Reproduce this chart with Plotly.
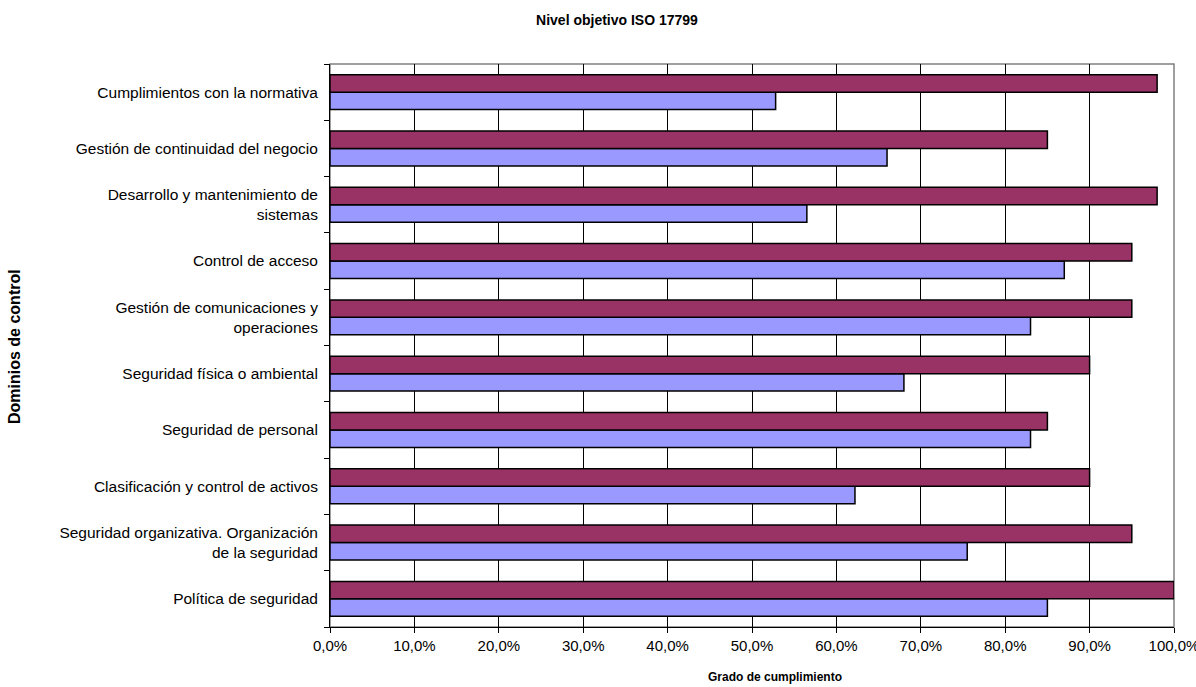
import plotly.graph_objects as go

categories = [
    "Política de seguridad",
    "Seguridad organizativa. Organización<br>de la seguridad",
    "Clasificación y control de activos",
    "Seguridad de personal",
    "Seguridad física o ambiental",
    "Gestión de comunicaciones y<br>operaciones",
    "Control de acceso",
    "Desarrollo y mantenimiento de<br>sistemas",
    "Gestión de continuidad del negocio",
    "Cumplimientos con la normativa",
]
nivel_actual = [0.85, 0.755, 0.622, 0.83, 0.68, 0.83, 0.87, 0.565, 0.66, 0.528]
nivel_objetivo = [1.00, 0.95, 0.90, 0.85, 0.90, 0.95, 0.95, 0.98, 0.85, 0.98]
x_ticks = [i / 10 for i in range(11)]

FONT = "Liberation Sans, Arial, sans-serif"

fig = go.Figure()
fig.add_trace(go.Bar(
    y=categories, x=nivel_actual, orientation="h", name="Actual",
    marker=dict(color="#9999FF", line=dict(color="#000000", width=1.5)),
))
fig.add_trace(go.Bar(
    y=categories, x=nivel_objetivo, orientation="h", name="Objetivo",
    marker=dict(color="#993366", line=dict(color="#000000", width=1.5)),
))

fig.update_layout(
    width=1196, height=687, autosize=False,
    margin=dict(l=330, r=22, t=64, b=60, autoexpand=False),
    paper_bgcolor="white", plot_bgcolor="white",
    barmode="group", bargap=0.38, bargroupgap=0,
    showlegend=False,
    separators=",.",
    font=dict(family=FONT, size=13, color="#000000"),
    title=dict(text="<b>Nivel objetivo ISO 17799</b>", x=617/1196, xanchor="center",
               y=1 - 20/687, yanchor="middle", xref="container", yref="container",
               font=dict(family=FONT, size=14)),
    shapes=[dict(type="rect", xref="paper", yref="paper", x0=0, x1=1, y0=0, y1=1,
                 line=dict(color="#808080", width=1.5), layer="below")],
    annotations=[
        dict(text="<b>Grado de cumplimiento</b>", xref="paper", yref="paper",
             x=(775-330)/(1174-330), y=-50/563, xanchor="center", yanchor="middle",
             showarrow=False, font=dict(family=FONT, size=12)),
        dict(text="<b>Dominios de control</b>", xref="paper", yref="paper",
             x=(15-330)/844, y=(627-347)/563, xanchor="center", yanchor="middle", textangle=-90,
             showarrow=False, font=dict(family=FONT, size=16)),
    ],
)
fig.update_xaxes(
    range=[0, 1], tickvals=x_ticks, tickformat=".1%",
    showgrid=True, gridcolor="#000000", gridwidth=1,
    showline=True, linecolor="#000000", linewidth=1,
    ticks="outside", ticklen=5, tickcolor="#000000",
    zeroline=False, fixedrange=True, automargin=False,
    tickfont=dict(family=FONT, size=15),
    ticklabeloverflow="allow",
)
fig.update_yaxes(
    type="category", tickson="boundaries",
    showgrid=False, showline=True, linecolor="#000000", linewidth=1,
    ticks="outside", ticklen=5, tickcolor="#000000",
    zeroline=False, fixedrange=True, automargin=False,
    tickfont=dict(family=FONT, size=15.5),
    ticklabelstandoff=8,
)

fig.write_html("out.html", config={"displayModeBar": False},
               post_script="document.body.style.margin='0';")
